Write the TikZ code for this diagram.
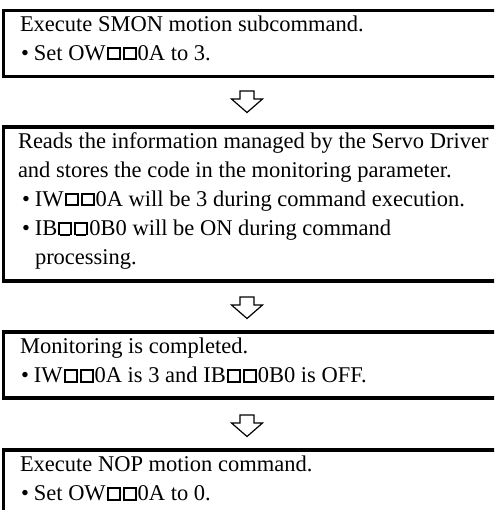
\documentclass[tikz,border=0pt]{standalone}
\usepackage{fontspec}
\setmainfont{Liberation Serif}
\newcommand\sqbox{\kern1pt\vrule width2pt height13.5pt depth0pt\vbox{\hrule height2pt\kern9.5pt\hrule height2pt\hbox to 10pt{}}\vrule width2pt height13.5pt depth0pt\kern1pt}
\newcommand\blt{\textbullet\kern5pt}
\begin{document}
\begin{tikzpicture}[x=1pt,y=-1pt,
  box/.style={draw, line width=3.2pt, anchor=north west, inner sep=0pt, outer sep=0pt, minimum width=600pt},
  txt/.style={anchor=base west, inner sep=0pt, outer sep=0pt, font=\fontsize{22.5}{29}\selectfont},
  downarrow/.pic={\draw[line width=1.2pt, line join=miter] (-7,0) -- (7,0) -- (7,8) -- (15.5,8) -- (0,21.5) -- (-15.5,8) -- (-7,8) -- cycle;}]
\useasboundingbox (0,0) rectangle (494,510);
\clip (0,0) rectangle (494,510);
% boxes
\node[box, minimum height=66pt] (b1) at (3.5,10.5) {};
\node[box, minimum height=154pt] (b2) at (3.5,127) {};
\node[box, minimum height=66pt] (b3) at (3.5,332) {};
\node[box, minimum height=100pt] (b4) at (3.5,450) {};
% texts
\node[txt] (t11) at (20,31.5) {Execute SMON motion subcommand.};
\node[txt] (t12) at (21,60.5) {\blt Set OW\sqbox\sqbox0A to 3.};
\node[txt] (t21) at (18,148.5) {Reads the information managed by the Servo Driver};
\node[txt] (t22) at (18,177.5) {and stores the code in the monitoring parameter.};
\node[txt] (t23) at (22,206.5) {\blt IW\sqbox\sqbox0A will be 3 during command execution.};
\node[txt] (t24) at (22,235.5) {\blt IB\sqbox\sqbox0B0 will be ON during command};
\node[txt] (t25) at (35,264.5) {processing.};
\node[txt] (t31) at (20,353.5) {Monitoring is completed.};
\node[txt] (t32) at (21,382.5) {\blt IW\sqbox\sqbox0A is 3 and IB\sqbox\sqbox0B0 is OFF.};
\node[txt] (t41) at (20,471.5) {Execute NOP motion command.};
\node[txt] (t42) at (21,500.5) {\blt Set OW\sqbox\sqbox0A to 0.};
% arrows
\pic (a1) at (247,91) {downarrow};
\pic (a2) at (247,297) {downarrow};
\pic (a3) at (247,415) {downarrow};
\end{tikzpicture}
\end{document}
